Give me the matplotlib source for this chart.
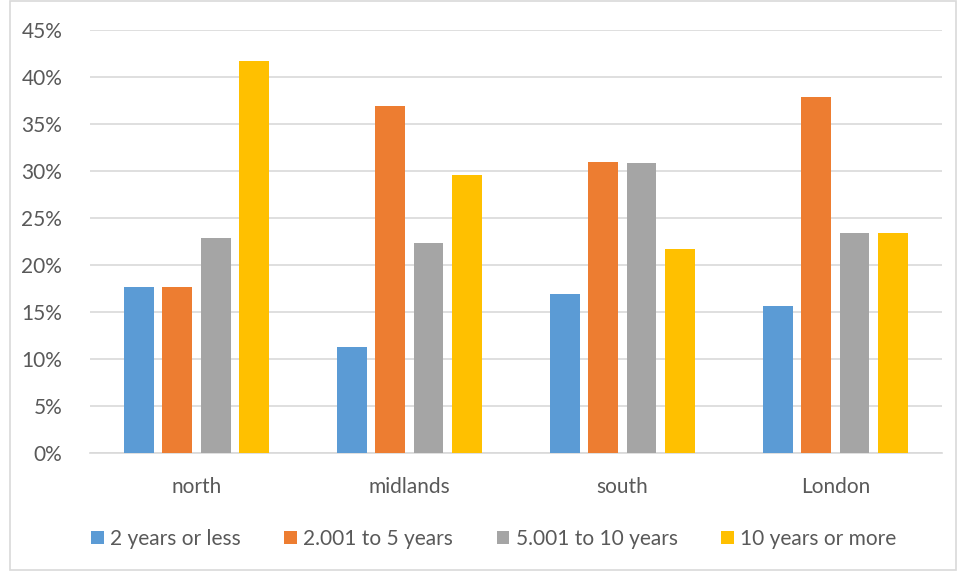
import matplotlib
matplotlib.use("Agg")
import matplotlib.pyplot as plt
from matplotlib.patches import Rectangle
from matplotlib.ticker import PercentFormatter
import numpy as np

regions = ["north", "midlands", "south", "London"]
series_names = ["2 years or less", "2.001 to 5 years", "5.001 to 10 years", "10 years or more"]
less_2 = [17.7, 11.3, 16.9, 15.6]
from_2_to_5 = [17.7, 36.9, 30.9, 37.8]
from_5_to_10 = [22.9, 22.3, 30.8, 23.4]
over_10 = [41.7, 29.6, 21.7, 23.4]
y_ticks = [0, 5, 10, 15, 20, 25, 30, 35, 40, 45]

colors = ["#5b9bd5", "#ed7d31", "#a5a5a5", "#ffc000"]
text_color = "#595959"
grid_color = "#d9d9d9"

plt.rcParams["font.family"] = ["Lato", "DejaVu Sans"]

fig = plt.figure(figsize=(9.58, 5.71), dpi=100)
fig.patches.append(Rectangle((10 / 958, 0.002), 946 / 958, 0.996, transform=fig.transFigure,
                             fill=False, edgecolor=grid_color, linewidth=1.2))
ax = fig.add_axes([0.094, 0.206, 0.889, 0.742])

x = np.arange(len(regions))
bar_w = 0.14
pitch = 0.18
for i, (vals, name) in enumerate(zip([less_2, from_2_to_5, from_5_to_10, over_10], series_names)):
    ax.bar(x + (i - 1.5) * pitch, vals, width=bar_w, color=colors[i], label=name, zorder=3)

ax.set_xlim(-0.5, len(regions) - 0.5)
ax.set_ylim(0, 45)
ax.set_yticks(y_ticks)
ax.yaxis.set_major_formatter(PercentFormatter(decimals=0))
ax.set_xticks(x)
ax.set_xticklabels(regions)
ax.grid(axis="y", color=grid_color, linewidth=1.2, zorder=0)
for side in ["top", "right", "left"]:
    ax.spines[side].set_visible(False)
ax.spines["bottom"].set_color(grid_color)
ax.spines["bottom"].set_linewidth(1.2)
ax.tick_params(axis="both", length=0, labelsize=15, colors=text_color)
ax.tick_params(axis="x", pad=17)
ax.tick_params(axis="y", pad=20)

ax.legend(loc="center", bbox_to_anchor=(0.474, -0.201), ncol=4, frameon=False,
          fontsize=15, labelcolor=text_color, handlelength=0.6, handleheight=0.6,
          handletextpad=0.3, columnspacing=2.1)

fig.savefig("out.png", dpi=100)
